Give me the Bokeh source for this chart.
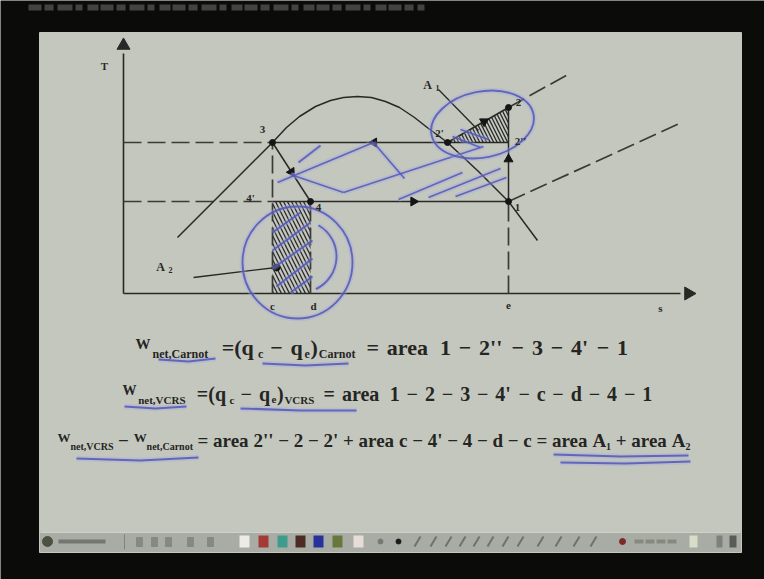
import re
import math
from bokeh.plotting import figure
from bokeh.models import Range1d
from bokeh.core.properties import value
from bokeh.embed import file_html
from bokeh.resources import INLINE

# ---------------- T-s diagram of the vapour compression cycle ----------------
# schematic units: entropy s to the right, temperature T upward, origin at the axes
s_max, T_max = 565, 248
T_cond, T_evap = 151, 92

state_names = ["1", "2", "2'", "2''", "3", "4", "4'"]
state_s = [385, 385, 324, 385, 149, 187, 149]
state_T = [92, 186, 151, 151, 151, 92, 92]

foot_names = ["c", "d", "e"]
foot_s = [149, 187, 385]

# saturation dome (liquid line, critical region, vapour line)
dome_s = [54, 149, 163, 176, 192, 207, 220, 234, 248, 262, 276, 291, 305, 324, 355, 385, 414]
dome_T = [56, 151, 166, 177, 187, 193, 196, 197, 196, 192, 186, 176, 165, 151, 122, 92, 53]

# constant-pressure lines into the superheated region
hp_s = [324, 385, 448]
hp_T = [151, 186, 221]
lp_s = [385, 556]
lp_T = [92, 170]

# formulas shown under the diagram
formula_1 = "^{W}_{net,Carnot} =(q_{c} − q_{e})_{Carnot} = area 1 − 2'' − 3 − 4' − 1"
formula_2 = "^{W}_{net,VCRS} =(q_{c} − q_{e})_{VCRS} = area 1 − 2 − 3 − 4' − c − d − 4 − 1"
formula_3 = ("^{W}_{net,VCRS} − ^{W}_{net,Carnot} = area 2'' − 2 − 2' + area c − 4' − 4 − d − c"
             " = area A_{1} + area A_{2}")

# hand-written pen strokes (page pixels, x right / y down)
ink_underlines = [
    [(158, 359), (188, 361), (215, 358)],
    [(262, 363), (305, 365), (348, 363)],
    [(124, 406), (155, 408), (186, 406)],
    [(240, 408), (300, 410), (356, 410)],
    [(76, 458), (140, 460), (198, 457)],
    [(553, 454), (620, 456), (688, 455)],
    [(560, 462), (625, 463), (690, 461)],
]
ink_middle = [
    [(277, 182), (373, 142)],
    [(373, 142), (404, 178)],
    [(290, 174), (343, 192)],
    [(343, 192), (483, 146)],
    [(298, 162), (320, 145)],
    [(398, 199), (462, 172)],
    [(428, 197), (500, 168)],
    [(455, 196), (506, 177)],
    [(452, 136), (480, 147)],
    [(460, 129), (488, 139)],
]
ink_a2 = [
    [(272, 232), (300, 212)],
    [(272, 250), (310, 222)],
    [(272, 268), (312, 240)],
    [(276, 286), (312, 258)],
    [(290, 292), (312, 276)],
]

# ---------------- page helpers ----------------
X0_PX, Y0_PX = 123, 293          # pixel position of the diagram origin


def X(px):
    return px - X0_PX


def Y(py):
    return Y0_PX - py


INK = "#5257b6"
HALO = "#a4a8e2"
DARK = "#282826"
SLIDE = "#c4c7be"
BLACK = "#0b0b09"

p = figure(width=764, height=579, x_range=Range1d(X(0), X(764)), y_range=Range1d(Y(579), Y(0)),
           output_backend="svg", toolbar_location=None, min_border=0,
           x_axis_type=None, y_axis_type=None,
           background_fill_color=BLACK, border_fill_color=BLACK, outline_line_color=None)

# slide and the presenter's toolbar
p.quad(left=X(39), right=X(741), top=Y(32), bottom=Y(552), color=SLIDE)
p.quad(left=X(40), right=X(740), top=Y(532), bottom=Y(551), color="#a9aca5")
p.line([X(40), X(740)], [Y(532), Y(532)], line_color="#cfd1cb", line_width=1)

# faint caption running off the top edge
p.line([X(28), X(424)], [Y(7), Y(7)], line_color="#4e4e4a", line_width=6, line_alpha=0.85,
       line_dash="13 3 9 4 15 3 7 5 11 2")

# toolbar widgets
p.circle(x=[X(47)], y=[Y(541)], radius=5, color="#4a5242")
p.line([X(58), X(105)], [Y(541), Y(541)], line_color="#74776f", line_width=4)
p.line([X(124), X(124)], [Y(534), Y(549)], line_color="#80837c", line_width=1)
p.quad(left=[X(v - 3) for v in [139, 154, 168, 190, 210]],
       right=[X(v + 3) for v in [139, 154, 168, 190, 210]],
       top=Y(537), bottom=Y(546), color="#858981")
swatch_x = [244, 263, 282, 300, 318, 337, 358]
swatch_c = ["#ecebe6", "#a33a36", "#3d9c8c", "#4e2a24", "#28309c", "#68783a", "#e6dcd8"]
p.quad(left=[X(v - 5) for v in swatch_x], right=[X(v + 5) for v in swatch_x],
       top=Y(535), bottom=Y(547), color=swatch_c, line_alpha=0)
p.circle(x=[X(380), X(398)], y=[Y(541), Y(541)], radius=2.5, color=["#777a73", "#1c1c1a"])
pen_x = [417, 433, 448, 462, 476, 490, 505, 520, 540, 558, 576, 593]
p.multi_line([[X(v - 3), X(v + 3)] for v in pen_x], [[Y(546), Y(536)] for _ in pen_x],
             line_color="#6f726b", line_width=2)
p.circle(x=[X(622)], y=[Y(541)], radius=3, color="#7a2a28")
p.line([X(634), X(678)], [Y(541), Y(541)], line_color="#86897f", line_width=4, line_dash="9 2")
p.quad(left=[X(689), X(716), X(729)], right=[X(697), X(722), X(736)],
       top=Y(535), bottom=Y(547), color=["#d7ddc8", "#7d817a", "#5a5d57"], line_alpha=0)

# ---------------- diagram ----------------
st = dict(zip(state_names, zip(state_s, state_T)))
s1, T1 = st["1"]
s2, T2 = st["2"]
s2p, _ = st["2'"]
s2pp, _ = st["2''"]
s3, _ = st["3"]
s4, _ = st["4"]
s4p, _ = st["4'"]

# hatched areas A1 (2'-2-2'') and A2 (c-4'-4-d)
p.patch([s2p, s2, s2pp], [T_cond, T2, T_cond], fill_alpha=0, line_alpha=0,
        hatch_pattern="left_diagonal_line", hatch_color="#2a2a2a", hatch_scale=7, hatch_weight=1.3)
p.quad(left=foot_s[0], right=foot_s[1], bottom=0, top=T_evap, fill_alpha=0, line_alpha=0,
       hatch_pattern="left_diagonal_line", hatch_color="#2a2a2a", hatch_scale=8, hatch_weight=1.3)

# axes with arrow heads
p.multi_line([[0, 0], [0, s_max - 8]], [[0, T_max - 8], [0, 0]], line_color=DARK, line_width=1.6)
p.scatter(x=[0, s_max], y=[T_max, 0], marker="triangle", size=13, angle=[0, -math.pi / 2],
          color=DARK)

dash = "18 6"
p.multi_line([[0, s3], [0, s4p], [s3, s3], [s4, s4], [s1, s1], [s2, hp_s[2]], lp_s],
             [[T_cond, T_cond], [T_evap, T_evap], [0, T_cond], [0, T_evap], [0, T_evap],
              [T2, hp_T[2]], lp_T],
             line_color="#3a3a38", line_width=1.7, line_dash=dash)
p.multi_line([[s3, s2pp], [s4p, s1], [s1, s2], [s3, s4], [s2p, s2]],
             [[T_cond, T_cond], [T_evap, T_evap], [T1, T2], [T_cond, T_evap], [T_cond, T2]],
             line_color=DARK, line_width=1.5)
p.line(dome_s, dome_T, line_color=DARK, line_width=1.5)

# leaders for the area labels
p.multi_line([[X(438), X(478)], [X(193), X(276)]], [[Y(89), Y(130)], [Y(277), Y(267)]],
             line_color=DARK, line_width=1.3)


# flow-direction arrows along the cycle
def along(a, b, f):
    return a[0] + f * (b[0] - a[0]), a[1] + f * (b[1] - a[1])


arrows = [
    (st["1"], st["2"], 0.45),
    (st["2'"], st["2"], 0.6),
    (st["4"], st["1"], 0.52),
    (st["2''"], st["3"], 0.57),
    (st["3"], st["4"], 0.5),
]
ax, ay, aang = [], [], []
for a, b, f in arrows:
    x, y = along(a, b, f)
    ax.append(x)
    ay.append(y)
    aang.append(math.atan2(b[1] - a[1], b[0] - a[0]) - math.pi / 2)
p.scatter(x=ax, y=ay, marker="triangle", size=9, angle=aang, color="#151515")

# state points
dots = ["1", "2", "2'", "3", "4"]
p.scatter(x=[st[n][0] for n in dots], y=[st[n][1] for n in dots], size=6, color="#151515")
p.scatter(x=[X(276)], y=[Y(267)], size=7, color="#151515")


# ---------------- hand-written ink ----------------
def ink(strokes, width=1.8):
    xs = [[X(a) for a, _ in s] for s in strokes]
    ys = [[Y(b) for _, b in s] for s in strokes]
    p.multi_line(xs, ys, line_color=HALO, line_width=width + 3.5, line_alpha=0.35)
    p.multi_line(xs, ys, line_color=INK, line_width=width, line_alpha=0.85)


ink(ink_middle)
ink(ink_a2)
ink(ink_underlines, 2.2)
for w, c, a in [(5.5, HALO, 0.35), (1.9, INK, 0.85)]:
    p.ellipse(x=[X(297), X(482)], y=[Y(262), Y(124)], width=[110, 104], height=[112, 66],
              angle=[0, 0.2], fill_alpha=0, line_color=c, line_width=w, line_alpha=a)
    p.arc(x=[X(300)], y=[Y(256)], radius=36, start_angle=-1.13, end_angle=1.05,
          line_color=c, line_width=w, line_alpha=a)

# ---------------- labels ----------------
SERIF = value("Liberation Serif")
lab_dx = [9, 10, -8, 12, -10, 8, -22]
lab_dy = [6, -5, -10, -2, -13, 6, -4]
p.text(x=state_s, y=state_T, text=state_names, x_offset=lab_dx, y_offset=lab_dy,
       text_font=SERIF, text_font_size="11px", text_font_style="bold", text_color=DARK,
       text_align="center", text_baseline="middle")
p.text(x=foot_s, y=[0, 0, 0], text=foot_names, y_offset=12, x_offset=[0, 3, 0],
       text_font=SERIF, text_font_size="11px", text_font_style="bold", text_color=DARK,
       text_align="center", text_baseline="middle")
p.text(x=[s_max - 28, -19], y=[0, T_max - 20], text=["s", "T"], y_offset=[14, 0],
       text_font=SERIF, text_font_size="11px", text_font_style="bold", text_color=DARK,
       text_align="center", text_baseline="middle")
p.text(x=[X(427), X(160)], y=[Y(84), Y(266)], text=["A", "A"], text_font=SERIF,
       text_font_size="12px", text_font_style="bold", text_color=DARK,
       text_align="center", text_baseline="middle")
p.text(x=[X(437), X(170)], y=[Y(87), Y(269)], text=["1", "2"], text_font=SERIF,
       text_font_size="8px", text_font_style="bold", text_color=DARK,
       text_align="center", text_baseline="middle")

# ---------------- formulas ----------------
WIDTHS = {" ": 250, "'": 278, "(": 333, ")": 333, ",": 250, "=": 570, "−": 570, "+": 570,
          "A": 722, "C": 722, "R": 722, "S": 556, "V": 722, "W": 1000, "a": 500, "c": 444,
          "d": 556, "e": 444, "n": 556, "o": 500, "q": 556, "r": 444, "t": 333}


def parse(spec):
    toks = []
    for m in re.finditer(r"_\{([^}]*)\}|\^\{([^}]*)\}|( )|([^ _^]+)", spec):
        if m.group(1) is not None:
            toks.append((m.group(1), "sub"))
        elif m.group(2) is not None:
            toks.append((m.group(2), "lead"))
        elif m.group(3):
            toks.append((" ", "main"))
        else:
            toks.append((m.group(4), "main"))
    return toks


def formula(spec, x0, x1, yc, main):
    sizes = {"main": main, "sub": round(main * 0.55), "lead": round(main * 0.68)}
    dys = {"main": 0, "sub": main * 0.3, "lead": -main * 0.15}
    toks = parse(spec)
    widths = [sum(WIDTHS.get(ch, 500) for ch in t) * sizes[r] / 1000 for t, r in toks]
    k = (x1 - x0) / sum(widths)
    x = x0
    groups = {r: ([], [], []) for r in sizes}
    for (t, r), w in zip(toks, widths):
        if t != " ":
            groups[r][0].append(X(x))
            groups[r][1].append(Y(yc + dys[r]))
            groups[r][2].append(t)
        x += w * k
    for r, (xs, ys, ts) in groups.items():
        if ts:
            p.text(x=xs, y=ys, text=ts, text_font=SERIF, text_font_size=f"{sizes[r]}px",
                   text_font_style="bold", text_color="#252523", text_align="left",
                   text_baseline="middle")


formula(formula_1, 135, 629, 347, 22)
formula(formula_2, 122, 653, 393, 20)
formula(formula_3, 57, 690, 440, 19)

open("out.html", "w").write(file_html(p, INLINE))
